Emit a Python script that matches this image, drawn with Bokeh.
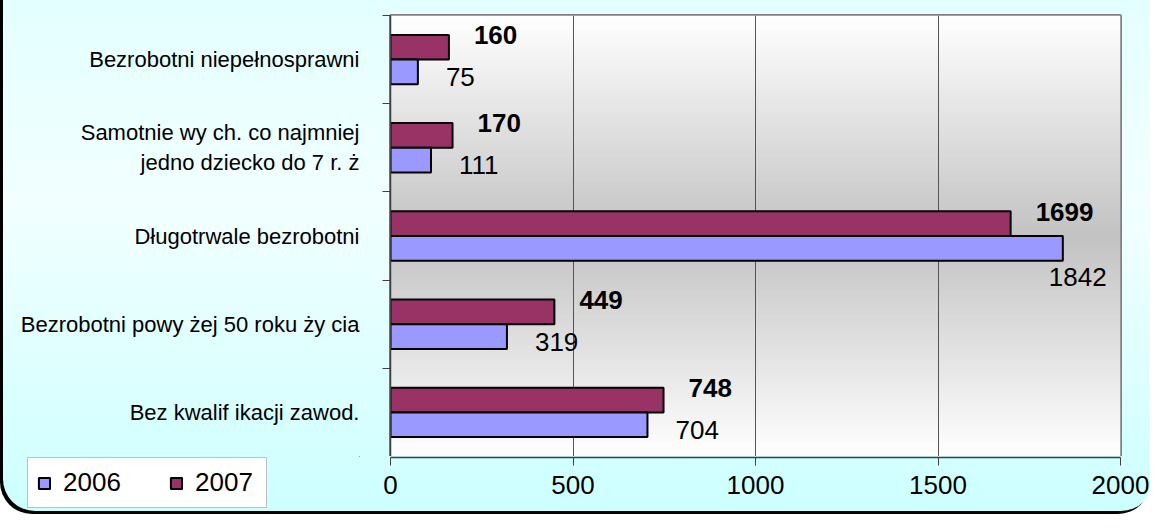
import numpy as np
from bokeh.plotting import figure
from bokeh.layouts import column, row
from bokeh.models import FixedTicker, Legend, LegendItem, ColumnDataSource, Range1d, Grid
from bokeh.core.properties import value
from bokeh.embed import file_html
from bokeh.resources import INLINE

# ---- data ----
categories = [
    "Bezrobotni niepełnosprawni",
    "Samotnie wy ch. co najmniej\njedno dziecko do 7 r. ż",
    "Długotrwale bezrobotni",
    "Bezrobotni powy żej 50 roku ży cia",
    "Bez kwalif ikacji zawod.",
]
v2006 = [75, 111, 1842, 319, 704]
v2007 = [160, 170, 1699, 449, 748]
x_ticks = [0, 500, 1000, 1500, 2000]
series_names = ["2006", "2007"]

FONT = "Liberation Sans"
C06 = "#9999FF"
C07 = "#993366"
n = len(categories)
centers = n - np.arange(n) - 0.5
XMAX = 2000.0
W, H = 1150, 514
BL, BR, BT = 390, 30, 15
PH = 456                 # height of the plot-area figure
BH_ROW = H - PH          # height of the bottom strip (legend + x axis)
LGW = 360                # width of the legend strip
FRAME_W = W - BL - BR

xr = Range1d(0, XMAX)

# ---------- main plot area with category axis ----------
p = figure(width=W, height=PH, output_backend="svg", toolbar_location=None,
           x_range=xr, y_range=Range1d(0, n), x_axis_location=None,
           min_border_left=BL, min_border_right=BR, min_border_top=BT, min_border_bottom=0)
p.border_fill_color = None
p.background_fill_color = "white"
p.outline_line_color = "#808080"
p.outline_line_width = 3
for gr in p.grid:
    gr.visible = False

# plot-area gradient background (white -> gray -> white)
rows = 451
t = np.linspace(0, 1, rows)
g = (255 - 60 * (1 - np.abs(t - 0.5) / 0.5)).astype(np.uint8)
img = np.empty((rows, 2), dtype=np.uint32)
view = img.view(dtype=np.uint8).reshape((rows, 2, 4))
view[:, :, 0] = g[:, None]
view[:, :, 1] = g[:, None]
view[:, :, 2] = g[:, None]
view[:, :, 3] = 255
p.image_rgba(image=[img], x=0, y=0, dw=XMAX, dh=n, level="image")

p.add_layout(Grid(dimension=0, ticker=FixedTicker(ticks=x_ticks[1:-1]),
                  grid_line_color="#555555", grid_line_width=1))

# bars
BHT = 0.28
src = ColumnDataSource(dict(
    y06=centers - BHT / 2, y07=centers + BHT / 2,
    v06=v2006, v07=v2007,
    t06=[str(v) for v in v2006], t07=[str(v) for v in v2007],
))
r07 = p.hbar(y="y07", left=0, right="v07", height=BHT, source=src,
             fill_color=C07, line_color="black", line_width=2)
r06 = p.hbar(y="y06", left=0, right="v06", height=BHT, source=src,
             fill_color=C06, line_color="black", line_width=2)

# value labels (a label that would run past the axis end goes under its bar)
fits06 = [v * FRAME_W / XMAX + 28 + 62 < FRAME_W for v in v2006]
src.data["xo06"] = [28 if f else -14 for f in fits06]
src.data["yo06"] = [5 if f else 29 for f in fits06]
p.text(x="v06", y="y06", text="t06", source=src, x_offset="xo06", y_offset="yo06",
       text_align="left", text_baseline="middle", text_font=value(FONT),
       text_font_size="26px", text_color="black")
p.text(x="v07", y="y07", text="t07", source=src, x_offset=25, y_offset=-12,
       text_align="left", text_baseline="middle", text_font=value(FONT),
       text_font_size="26px", text_font_style="bold", text_color="black")

# y axis (labels at centres, tick marks between categories)
ya = p.yaxis[0]
ya.ticker = FixedTicker(ticks=list(centers), minor_ticks=list(range(n + 1)))
ya.major_tick_line_color = None
ya.major_tick_out = 0
ya.minor_tick_line_color = "#404040"
ya.minor_tick_out = 8
ya.minor_tick_in = 0
ya.axis_line_color = "#404040"
ya.axis_line_width = 1.5
ya.major_label_overrides = {float(c): lab for c, lab in zip(centers, categories)}
ya.major_label_standoff = 23
ya.major_label_text_font = FONT
ya.major_label_text_font_size = "22px"
ya.major_label_text_color = "black"

# ---------- bottom strip: x axis ----------
b = figure(width=W - LGW, height=BH_ROW, output_backend="svg", toolbar_location=None,
           x_range=xr, y_range=Range1d(0, 1), y_axis_type=None,
           min_border_left=BL - LGW, min_border_right=BR, min_border_top=0,
           min_border_bottom=BH_ROW - 1)
b.border_fill_color = None
b.background_fill_color = None
b.outline_line_color = None
for gr in b.grid:
    gr.visible = False
xa = b.xaxis[0]
xa.ticker = FixedTicker(ticks=x_ticks)
xa.axis_line_color = "#404040"
xa.axis_line_width = 1.5
xa.major_tick_line_color = "#404040"
xa.major_tick_out = 8
xa.major_tick_in = 0
xa.minor_tick_line_color = None
xa.major_label_standoff = 10
xa.major_label_text_font = FONT
xa.major_label_text_font_size = "26px"
xa.major_label_text_color = "black"

# ---------- bottom strip: legend (frame size fixed explicitly) ----------
lg = figure(width=LGW, height=BH_ROW, frame_width=LGW, frame_height=BH_ROW,
            output_backend="svg", toolbar_location=None,
            x_axis_type=None, y_axis_type=None,
            min_border_left=0, min_border_right=0, min_border_top=0, min_border_bottom=0,
            x_range=Range1d(0, 1), y_range=Range1d(0, 1))
lg.border_fill_color = None
lg.background_fill_color = None
lg.outline_line_color = None
for gr in lg.grid:
    gr.visible = False
d06 = lg.hbar(y=[5], left=[5], right=[6], height=0.5, fill_color=C06, line_color="black", line_width=2)
d07 = lg.hbar(y=[5], left=[5], right=[6], height=0.5, fill_color=C07, line_color="black", line_width=2)
legend = Legend(
    items=[LegendItem(label=series_names[0], renderers=[d06]),
           LegendItem(label=series_names[1], renderers=[d07])],
    orientation="horizontal", location=(27, 6), margin=0, padding=9,
    spacing=44, label_standoff=12, label_width=62, glyph_width=14, glyph_height=14,
    label_text_font=FONT, label_text_font_size="26px", label_text_color="black",
    border_line_color="#808080", border_line_width=1.5,
    background_fill_color="white", background_fill_alpha=1.0,
)
lg.add_layout(legend)

layout = column(p, row(lg, b, spacing=0), spacing=0)
layout.styles = {
    "background": "linear-gradient(#e4ffff 0%, #f2ffff 40%, #ccffff 100%)",
    "border-radius": "0 0 32px 32px",
    "box-shadow": "inset 3px -3px 0 0 #000000",
}
open("out.html", "w").write(file_html(layout, INLINE))
